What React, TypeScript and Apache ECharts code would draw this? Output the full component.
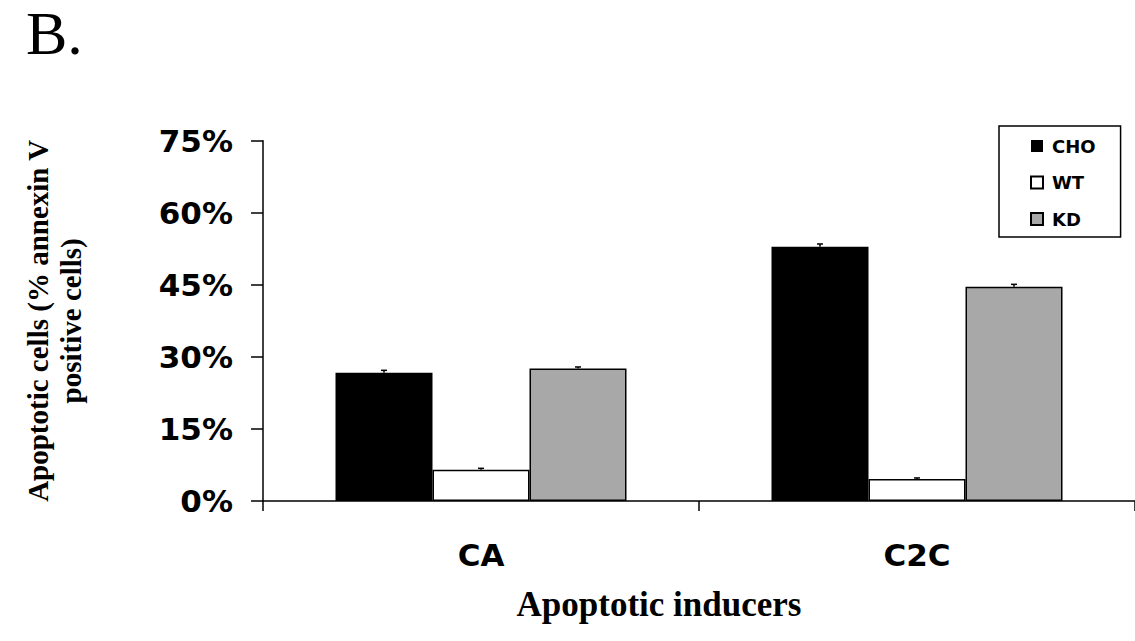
import React, { useEffect, useRef } from "react";
import * as echarts from "echarts";

const categories = ["CA", "C2C"];
const seriesNames = ["CHO", "WT", "KD"];
const choValues = [26.7, 52.9];
const wtValues = [6.5, 4.6];
const kdValues = [27.6, 44.6];
const choErr = [0.5, 0.6];
const wtErr = [0.3, 0.2];
const kdErr = [0.3, 0.5];
const yTicks = [0, 15, 30, 45, 60, 75];

const BAR_W = 97;

export default function App() {
  const ref = useRef<HTMLDivElement>(null);
  useEffect(() => {
    if (!ref.current) return;
    const chart = echarts.init(ref.current, undefined, { renderer: "svg" });
    const values = [choValues, wtValues, kdValues];
    const errs = [choErr, wtErr, kdErr];
    const colors = ["#000000", "#ffffff", "#a8a8a8"];

    const barSeries = seriesNames.map((name, i) => ({
      name,
      type: "bar",
      data: values[i],
      barWidth: BAR_W,
      barGap: "0%",
      itemStyle: {
        color: colors[i],
        borderColor: "#000",
        borderWidth: i === 0 ? 0 : 1.5,
      },
      z: 2,
    }));

    const errData: number[][] = [];
    for (let s = 0; s < 3; s++) {
      for (let c = 0; c < categories.length; c++) {
        errData.push([c, values[s][c], errs[s][c], s]);
      }
    }

    const errSeries = {
      type: "custom",
      name: "err",
      data: errData,
      z: 5,
      renderItem: (params: any, api: any) => {
        const c = api.value(0);
        const v = api.value(1);
        const e = api.value(2);
        const s = api.value(3);
        const base = api.coord([c, v]);
        const top = api.coord([c, v + e]);
        const x = base[0] + (s - 1) * BAR_W;
        return {
          type: "group",
          children: [
            {
              type: "line",
              shape: { x1: x, y1: base[1], x2: x, y2: top[1] },
              style: { stroke: "#000", lineWidth: 1.5 },
            },
            {
              type: "line",
              shape: { x1: x - 3, y1: top[1], x2: x + 3, y2: top[1] },
              style: { stroke: "#000", lineWidth: 1.5 },
            },
          ],
        };
      },
    };

    chart.setOption({
      animation: false,
      backgroundColor: "#ffffff",
      title: {
        text: "B.",
        left: 26,
        top: 2,
        padding: 0,
        textStyle: {
          fontFamily: "Liberation Serif",
          fontWeight: "normal",
          fontSize: 62,
          color: "#000",
        },
      },
      legend: {
        data: seriesNames,
        orient: "vertical",
        left: 999,
        top: 126,
        padding: [11, 25, 9, 31],
        itemWidth: 12,
        itemHeight: 12,
        itemGap: 18.5,
        icon: "rect",
        borderColor: "#000",
        borderWidth: 1.5,
        textStyle: {
          fontFamily: "DejaVu Sans",
          fontWeight: "bold",
          fontSize: 18,
          color: "#000",
          padding: [0, 0, 0, 4],
        },
      },
      grid: {
        left: 263,
        top: 140.7,
        width: 880,
        height: 360.3,
        containLabel: false,
      },
      xAxis: {
        type: "category",
        data: categories,
        name: "Apoptotic inducers",
        nameLocation: "middle",
        nameGap: 86,
        nameTextStyle: {
          fontFamily: "Liberation Serif",
          fontWeight: "bold",
          fontSize: 35,
          color: "#000",
          padding: [0, 80, 0, 0],
        },
        axisLine: { lineStyle: { color: "#000", width: 1.5 } },
        axisTick: { show: true, length: 10, lineStyle: { color: "#000", width: 1.5 } },
        axisLabel: {
          margin: 38,
          fontFamily: "DejaVu Sans",
          fontWeight: "bold",
          fontSize: 31,
          color: "#000",
        },
      },
      yAxis: {
        type: "value",
        min: yTicks[0],
        max: yTicks[yTicks.length - 1],
        interval: 15,
        name: "Apoptotic cells (% annexin V\npositive cells)",
        nameLocation: "middle",
        nameRotate: 90,
        nameGap: 176,
        nameTextStyle: {
          fontFamily: "Liberation Serif",
          fontWeight: "bold",
          fontSize: 29,
          lineHeight: 33,
          color: "#000",
        },
        splitLine: { show: false },
        axisLine: { show: true, lineStyle: { color: "#000", width: 1.5 } },
        axisTick: { show: true, length: 12, lineStyle: { color: "#000", width: 1.5 } },
        axisLabel: {
          margin: 30,
          fontFamily: "DejaVu Sans",
          fontWeight: "bold",
          fontSize: 31,
          color: "#000",
          formatter: (v: number) => `${v}%`,
        },
      },
      series: [...barSeries, errSeries],
    });
    return () => chart.dispose();
  }, []);

  return (
    <div
      ref={ref}
      style={{ position: "absolute", left: 0, top: 0, width: 1135, height: 641, background: "#fff" }}
    />
  );
}
